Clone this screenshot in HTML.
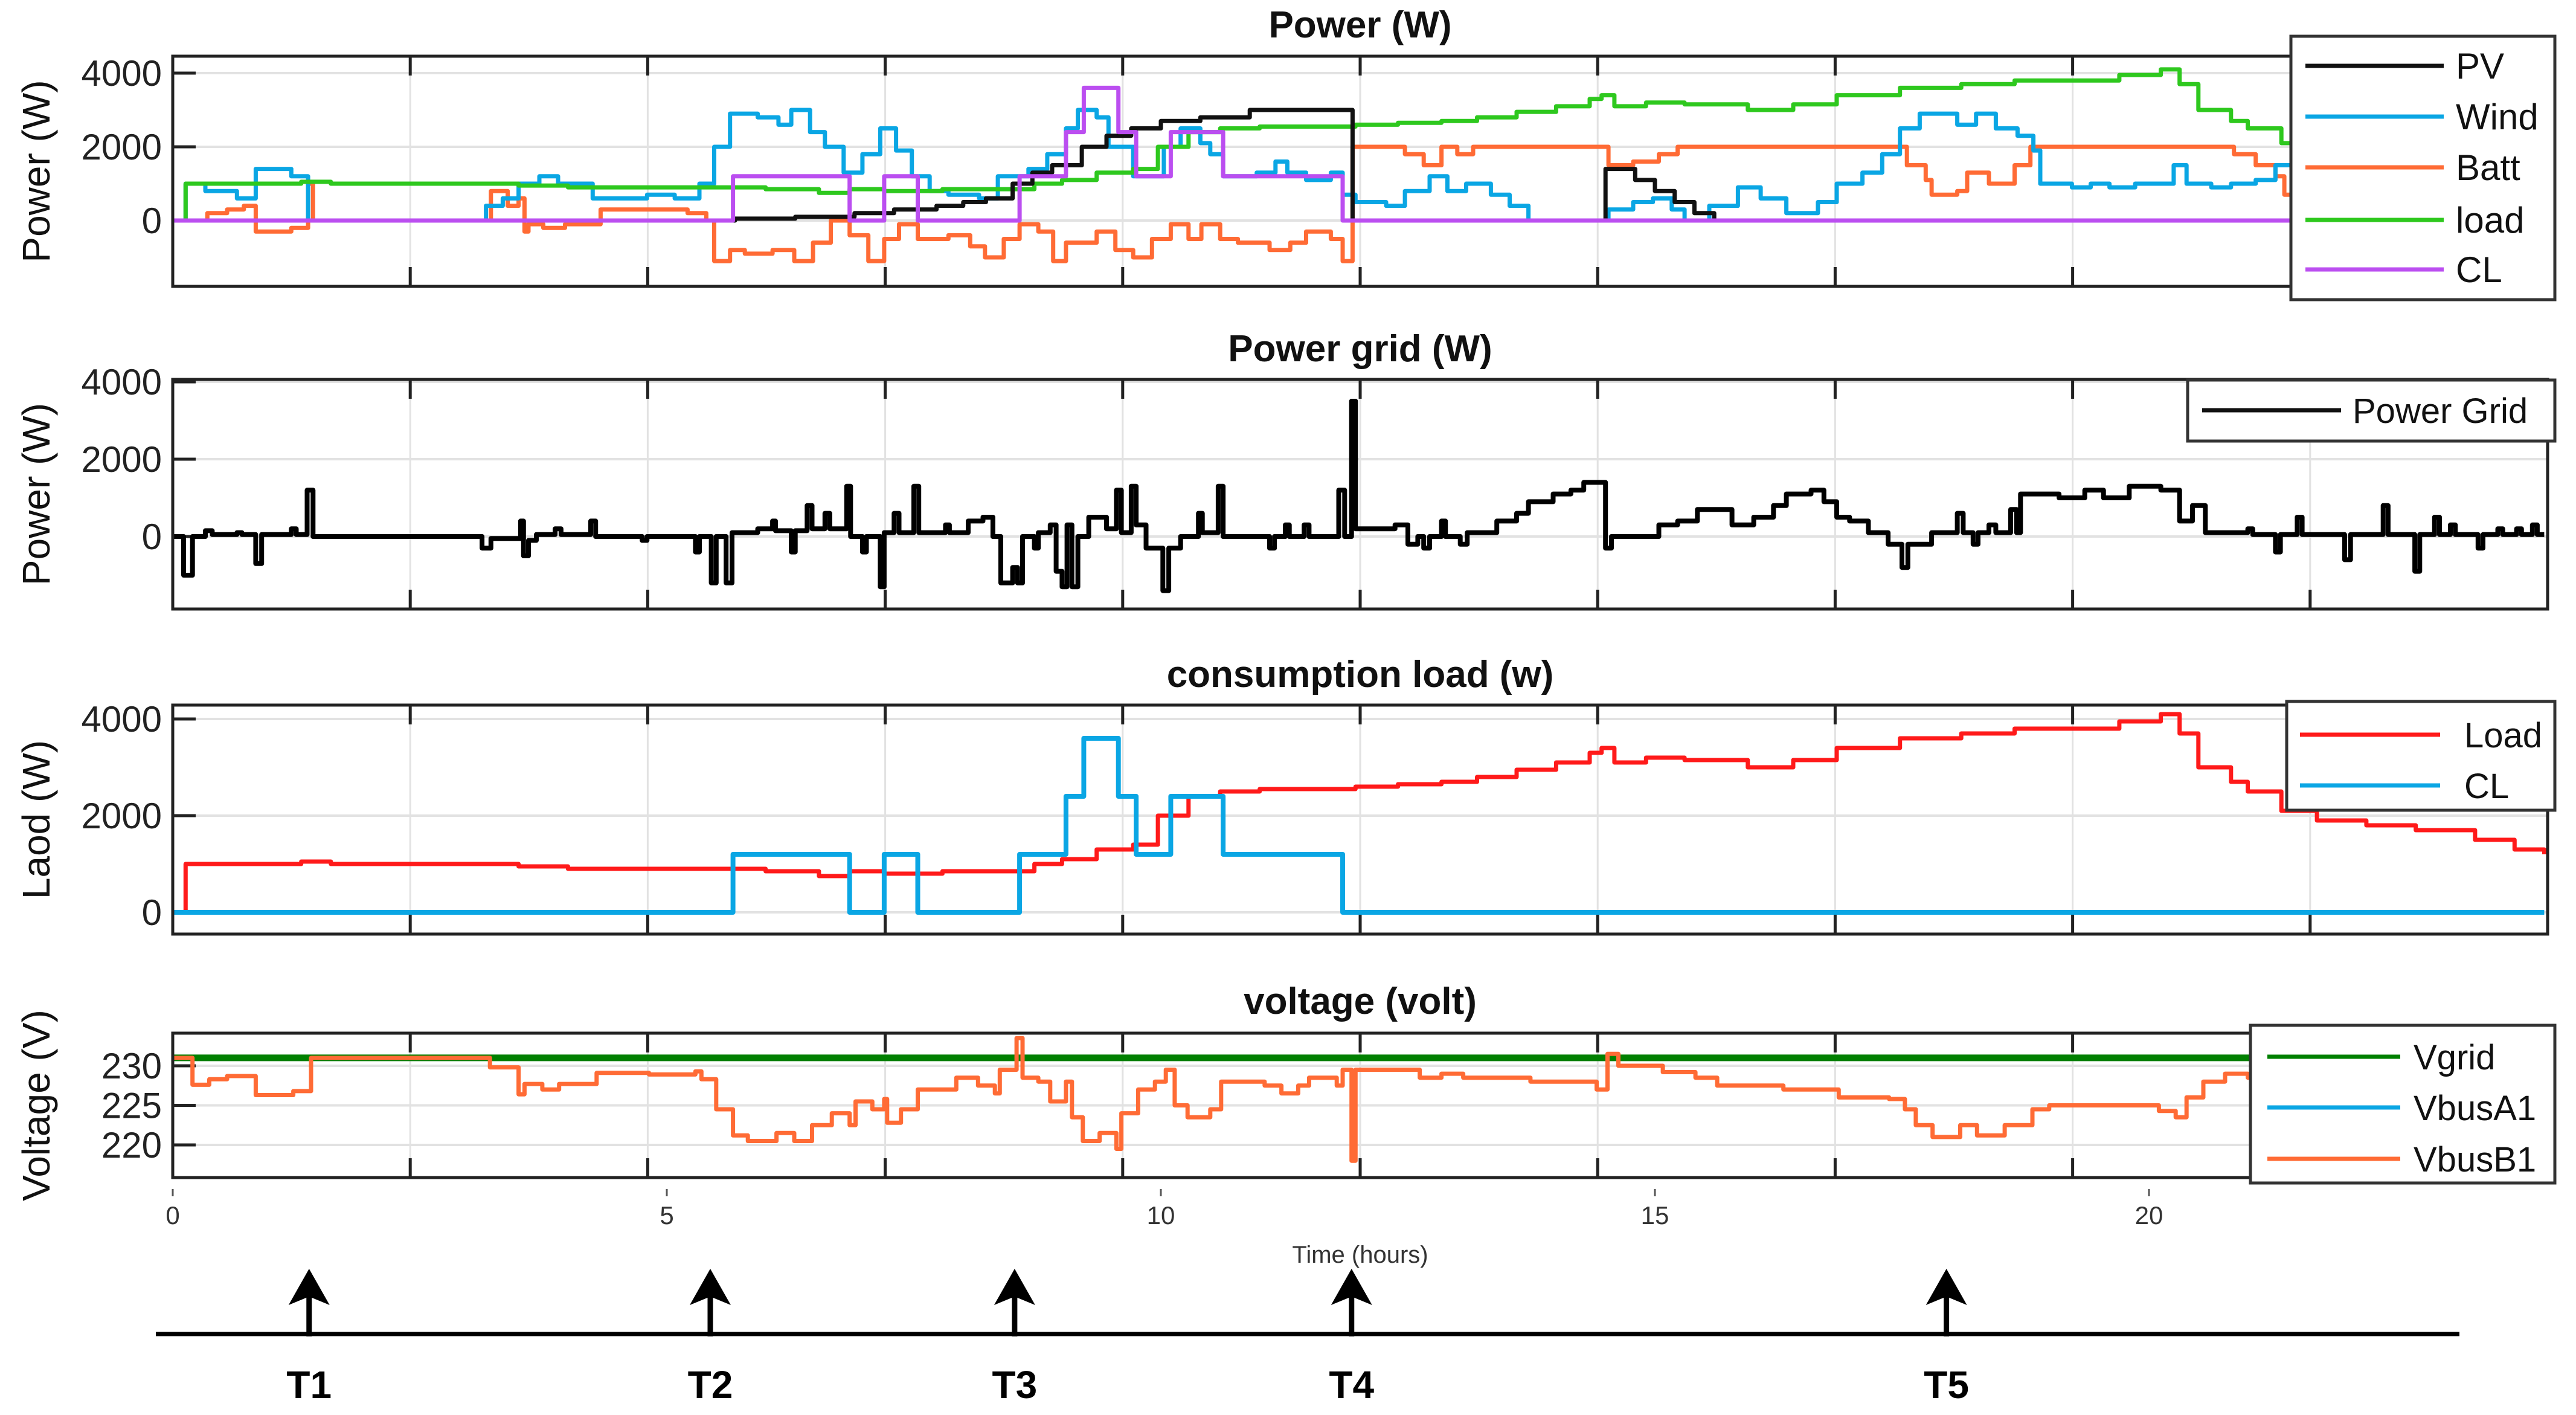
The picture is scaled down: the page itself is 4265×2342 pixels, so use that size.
<!DOCTYPE html>
<html><head><meta charset="utf-8"><style>
html,body{margin:0;padding:0;background:#fff;}
svg{display:block;}
text{font-family:"Liberation Sans",Arial,sans-serif;}
</style></head>
<body>
<svg id="fig" width="4265" height="2342" viewBox="0 0 4265 2342" xmlns="http://www.w3.org/2000/svg">
<rect x="0" y="0" width="4265" height="2342" fill="#fff"/>
</svg>
<script>
// ---------- data (time in hours, values in W / V) ----------
const pvT=[0,5.69,6.3,6.9,7.3,7.73,8.0,8.23,8.5,8.7,8.9,9.2,9.45,9.7,10.0,10.4,10.9,11.94,14.5,14.8,15.0,15.2,15.4,15.6,24];
const pvV=[0,50,100,200,300,400,500,600,1000,1300,1500,2000,2300,2500,2700,2800,3000,0,1400,1100,800,500,200,0,0];
const windT=[0,0.13,0.33,0.65,0.84,1.2,1.37,3.17,3.34,3.5,3.71,3.9,4.25,4.8,5.08,5.33,5.48,5.64,5.92,6.13,6.26,6.45,6.6,6.79,6.98,7.16,7.32,7.48,7.66,7.85,8.16,8.35,8.66,8.85,9.04,9.16,9.35,9.47,9.72,10.03,10.2,10.4,10.5,10.63,10.97,11.16,11.28,11.47,11.72,11.84,11.97,12.28,12.47,12.72,12.9,13.09,13.34,13.53,13.72,14.53,14.78,14.98,15.17,15.3,15.55,15.84,16.07,16.33,16.65,16.84,17.1,17.3,17.48,17.68,18.06,18.25,18.45,18.67,18.83,18.9,19.22,19.41,19.6,19.86,20.25,20.38,20.63,20.83,21.08,21.28,21.5,24];
const windV=[0,1000,800,600,1400,1200,0,400,600,1000,1200,1000,600,700,600,1000,2000,2900,2800,2600,3000,2400,2000,1300,1800,2500,1900,1200,800,700,600,1200,1400,1800,2500,3000,2800,2000,1200,2000,2500,2100,1800,1200,1300,1600,1300,1100,1300,700,500,400,800,1200,800,1000,700,400,0,300,500,600,300,0,400,900,600,200,500,1000,1300,1800,2500,2900,2600,2900,2500,2300,1900,1000,900,1000,900,1000,1500,1000,900,1000,1100,1500,1300,1300];
const battT=[0,0.35,0.55,0.72,0.84,1.2,1.37,1.42,3.22,3.39,3.5,3.56,3.6,3.75,3.97,4.33,4.88,5.21,5.4,5.48,5.64,5.79,6.07,6.29,6.48,6.66,6.85,7.04,7.2,7.35,7.54,7.85,8.07,8.22,8.41,8.57,8.76,8.91,9.04,9.35,9.54,9.72,9.91,10.1,10.28,10.41,10.6,10.78,11.1,11.31,11.47,11.72,11.84,11.94,12.47,12.66,12.84,13.0,13.16,14.53,14.78,15.04,15.23,17.42,17.55,17.74,17.8,18.06,18.16,18.38,18.64,18.8,20.76,20.86,21.08,21.28,21.37,24];
const battV=[0,200,300,400,-300,-200,1000,0,800,400,600,-300,-100,-200,-100,300,300,200,0,-1100,-800,-900,-800,-1100,-600,0,-400,-1100,-500,-100,-500,-400,-700,-1000,-500,-100,-300,-1100,-600,-300,-800,-1000,-500,-100,-500,-100,-500,-600,-800,-600,-300,-500,-1100,2000,1800,1500,2000,1800,2000,1500,1600,1800,2000,2000,1500,1100,700,800,1300,1000,1500,2000,2000,1800,1500,1200,700,700];
const loadT=[0,0.13,1.0,1.3,1.6,3.5,4.0,5.5,6.0,6.3,6.54,6.85,7.2,7.79,8.72,9.0,9.35,9.72,9.97,10.28,10.6,11.0,11.97,12.4,12.84,13.2,13.6,14.0,14.34,14.46,14.59,14.91,15.3,15.94,16.4,16.84,17.48,18.1,18.64,19.22,19.7,20.12,20.31,20.5,20.83,21.0,21.34,21.7,22.2,22.7,23.3,23.7,24];
const loadV=[0,1000,1000,1050,1000,950,900,900,850,850,750,850,800,850,1000,1100,1300,1400,2000,2400,2500,2550,2600,2650,2700,2800,2950,3100,3300,3400,3100,3200,3150,3000,3150,3400,3600,3700,3800,3800,3950,4100,3700,3000,2700,2500,2100,1900,1800,1700,1500,1300,1200];
const clT=[0,5.67,6.85,7.2,7.54,8.57,9.04,9.22,9.57,9.75,10.1,10.63,11.84,24];
const clV=[0,1200,0,1200,0,1200,2400,3600,2400,1200,2400,1200,0,0];
const gridT=[0,0.11,0.2,0.33,0.4,0.65,0.7,0.84,0.9,1.2,1.25,1.36,1.42,3.13,3.22,3.52,3.55,3.6,3.68,3.87,3.93,4.23,4.28,4.75,4.8,5.29,5.33,5.45,5.5,5.6,5.66,5.92,6.07,6.1,6.26,6.3,6.42,6.47,6.6,6.65,6.82,6.86,6.98,7.02,7.16,7.2,7.3,7.35,7.5,7.55,7.82,7.86,8.05,8.2,8.3,8.38,8.5,8.55,8.6,8.72,8.76,8.88,8.94,9.0,9.05,9.1,9.16,9.27,9.45,9.55,9.6,9.7,9.75,9.85,10.02,10.08,10.2,10.38,10.42,10.58,10.63,11.1,11.15,11.26,11.3,11.45,11.5,11.8,11.86,11.93,11.97,12.37,12.5,12.6,12.66,12.72,12.84,12.88,13.03,13.1,13.4,13.6,13.72,13.97,14.15,14.28,14.5,14.56,15.04,15.23,15.43,15.65,15.78,16.0,16.2,16.33,16.58,16.71,16.84,16.97,17.16,17.36,17.5,17.56,17.8,18.06,18.12,18.22,18.27,18.38,18.45,18.6,18.66,18.7,19.09,19.35,19.54,19.8,20.12,20.31,20.44,20.57,21.0,21.05,21.28,21.33,21.5,21.55,21.98,22.04,22.37,22.42,22.69,22.74,22.89,22.94,23.05,23.1,23.33,23.38,23.53,23.58,23.72,23.77,23.88,23.93,24];
const gridV=[0,-1000,0,150,50,100,50,-700,50,200,50,1200,0,-300,-50,400,-500,-100,50,200,50,400,0,-100,0,-400,0,-1200,0,-1200,100,200,400,150,-400,150,800,200,600,200,1300,0,-400,0,-1300,100,600,100,1300,100,300,100,400,500,0,-1200,-800,-1200,0,-300,100,300,-900,-1300,300,-1300,0,500,200,1200,100,1300,300,-300,-1400,-300,0,600,100,1300,0,-300,0,300,0,300,0,1200,0,3500,200,300,-200,0,-300,0,400,0,-200,100,400,600,900,1100,1200,1400,-300,0,300,400,700,700,300,500,800,1100,1200,900,500,400,100,-200,-800,-200,100,600,100,-200,100,300,100,700,100,1100,1000,1200,1000,1300,1200,400,800,100,200,50,-400,50,500,50,-600,50,800,50,-900,50,500,50,300,50,-300,50,200,50,200,50,300,50,50];
const vgridT=[0,24];
const vgridV=[231,231];
const vbT=[0,0.2,0.37,0.55,0.84,1.22,1.4,3.21,3.5,3.56,3.74,3.91,4.29,4.82,5.29,5.35,5.5,5.67,5.82,6.11,6.29,6.47,6.67,6.85,6.91,7.08,7.2,7.23,7.37,7.54,7.93,8.15,8.32,8.37,8.54,8.6,8.76,8.88,9.04,9.1,9.21,9.38,9.55,9.6,9.77,9.94,10.05,10.14,10.27,10.5,10.61,11.05,11.22,11.39,11.5,11.78,11.84,11.93,11.97,12.4,12.62,12.84,13.06,13.74,14.41,14.52,14.63,15.08,15.41,15.63,16.3,16.86,17.37,17.53,17.64,17.81,18.09,18.26,18.54,18.82,18.99,20.1,20.27,20.38,20.55,20.77,21.0,24];
const vbV=[231,227.6,228.3,228.7,226.3,226.8,231,229.8,226.4,227.7,227,227.7,229.1,228.9,229.3,228.3,224.5,221.2,220.5,221.5,220.5,222.5,224,222.5,225.5,224.5,225.8,222.8,224.5,227,228.5,227.5,226.5,229.5,233.5,228.5,228,225.5,228,223.5,220.5,221.5,219.5,224,227,228,229.5,225,223.5,224.5,228,227.5,226.5,227.5,228.5,227.5,229.5,218,229.5,229.5,228.5,229,228.5,228,227,231.5,230,229.2,228.5,227.5,227,226,225.8,224.5,222.5,221,222.5,221.2,222.5,224.5,225,224.3,223.5,226,228,229,228.5,228.5];
const xTickLabels=["0","5","10","15","20"];
const xTickValues=[0,5,10,15,20];
const p1Ticks=[0,2000,4000];
const p4Ticks=[220,225,230];
const eventLabels=["T1","T2","T3","T4","T5"];
const eventTimes=[1.38,5.44,8.52,11.93,17.95];

// ---------- helpers ----------
const NS="http://www.w3.org/2000/svg";
const svg=document.getElementById('fig');
const X0=286, PXH=163.6, XR=4218;
function xs(h){return X0+h*PXH;}
function mk(tag,attrs,parent){const e=document.createElementNS(NS,tag);for(const k in attrs)e.setAttribute(k,attrs[k]);(parent||svg).appendChild(e);return e;}

const panels=[
 {name:'power',top:93,bot:474,y0:365,k:0.061,base:0,ticks:p1Ticks,ylab:'Power (W)',title:'Power (W)',ty:62},
 {name:'power-grid',top:628,bot:1008,y0:888,k:0.064,base:0,ticks:p1Ticks,ylab:'Power (W)',title:'Power grid (W)',ty:598},
 {name:'consumption-load',top:1167,bot:1546,y0:1510,k:0.08,base:0,ticks:p1Ticks,ylab:'Laod (W)',title:'consumption load (w)',ty:1137},
 {name:'voltage',top:1710,bot:1949,y0:1764,k:13.1,base:230,ticks:p4Ticks,ylab:'Voltage (V)',title:'voltage (volt)',ty:1678}
];
function ys(p,v){return p.y0-(v-p.base)*p.k;}

function stepPath(p,T,V){
  let d='M'+xs(T[0]).toFixed(1)+','+ys(p,V[0]).toFixed(1);
  for(let i=1;i<T.length;i++){
    d+=' H'+xs(T[i]).toFixed(1)+' V'+ys(p,V[i]).toFixed(1);
  }
  return d;
}

panels.forEach((p,pi)=>{
  const g=mk('g',{});
  
  
  const cid='clip'+pi;
  const cp=mk('clipPath',{id:cid},g);
  mk('rect',{x:X0,y:p.top,width:XR-X0,height:p.bot-p.top},cp);
  for(let k=1;k<10;k++){
    const gx=X0+(XR-X0)*k/10;
    const gl=mk('line',{x1:gx,y1:p.top,x2:gx,y2:p.bot,stroke:'#e2e2e2','stroke-width':3},g);
    
    
  }
  p.ticks.forEach(v=>{
    const yy=ys(p,v);
    const hl=mk('line',{x1:X0,y1:yy,x2:XR,y2:yy,stroke:'#e2e2e2','stroke-width':4},g);
    
    
    mk('line',{x1:X0,y1:yy,x2:X0+38,y2:yy,stroke:'#222','stroke-width':5},g);
    const t=mk('text',{x:268,y:yy+21,'text-anchor':'end','font-size':60,fill:'#222'},g);
    t.textContent=String(v);
    
    
  });
  for(let k=1;k<10;k++){
    const gx=X0+(XR-X0)*k/10;
    mk('line',{x1:gx,y1:p.top,x2:gx,y2:p.top+32,stroke:'#222','stroke-width':5},g);
    mk('line',{x1:gx,y1:p.bot,x2:gx,y2:p.bot-32,stroke:'#222','stroke-width':5},g);
  }
  const yl=mk('text',{x:0,y:0,'text-anchor':'middle','font-size':64,fill:'#111',transform:`translate(82,${(p.top+p.bot)/2}) rotate(-90)`},g);
  yl.textContent=p.ylab;
  
  
  const tt=mk('text',{x:2252,y:p.ty,'text-anchor':'middle','font-size':62,'font-weight':'bold',fill:'#111'},g);
  tt.textContent=p.title;
  
  
  p.g=g;p.cid=cid;
});

function series(pi,T,V,color,w,name){
  const p=panels[pi];
  const e=mk('path',{d:stepPath(p,T,V),fill:'none',stroke:color,'stroke-width':w,'stroke-linejoin':'round','clip-path':`url(#${p.cid})`},p.g);
  
  
}
series(0,battT,battV,'#ff6b35',7,'batt-line');
series(0,windT,windV,'#0aa6e4',7,'wind-line');
series(0,loadT,loadV,'#2ec81e',7,'load-line');
series(0,pvT,pvV,'#111',7,'pv-line');
series(0,clT,clV,'#bb4ef0',7,'cl-line');
series(1,gridT,gridV,'#000',8,'power-grid-line');
series(2,loadT,loadV,'#ff1a1a',7,'load-line');
series(2,clT,clV,'#0aa6e4',8,'cl-line');
series(3,vgridT,vgridV,'#008000',11,'vgrid-line');
series(3,vbT,vbV,'#0aa6e4',6,'vbusa1-line');
series(3,vbT,vbV,'#ff6b35',7,'vbusb1-line');

panels.forEach(p=>{
  const f=mk('rect',{x:X0,y:p.top,width:XR-X0,height:p.bot-p.top,fill:'none',stroke:'#222','stroke-width':5},p.g);
  
  
});

function legend(x1,y1,x2,y2,items,lx1,lx2,tx,fs){
  const g=mk('g',{});
  
  
  mk('rect',{x:x1,y:y1,width:x2-x1,height:y2-y1,fill:'#fff',stroke:'#333','stroke-width':5},g);
  items.forEach(it=>{
    const e=mk('g',{},g);
    
    
    mk('line',{x1:lx1,y1:it[2],x2:lx2,y2:it[2],stroke:it[1],'stroke-width':7},e);
    const t=mk('text',{x:tx,y:it[2]+21,'font-size':fs,fill:'#111'},e);
    t.textContent=it[0];
  });
}
legend(3793,60,4230,496,[['PV','#111',109],['Wind','#0aa6e4',193],['Batt','#ff6b35',277],['load','#2ec81e',364],['CL','#bb4ef0',446]],3817,4046,4066,60);
legend(3622,629,4230,730,[['Power Grid','#111',679]],3646,3876,3895,58);
legend(3786,1161,4230,1341,[['Load','#ff1a1a',1216],['CL','#0aa6e4',1300]],3808,4040,4080,58);
legend(3726,1697,4230,1958,[['Vgrid','#008000',1749],['VbusA1','#0aa6e4',1833],['VbusB1','#ff6b35',1918]],3754,3974,3996,58);

xTickValues.forEach((v,i)=>{
  const xx=xs(v);
  mk('line',{x1:xx,y1:1968,x2:xx,y2:1980,stroke:'#555','stroke-width':3});
  const t=mk('text',{x:xx,y:2026,'text-anchor':'middle','font-size':42,fill:'#333','font-family':'Liberation Serif, serif'});
  t.textContent=xTickLabels[i];
  
  
});
const xt=mk('text',{x:2252,y:2090,'text-anchor':'middle','font-size':40,fill:'#333'});
xt.textContent='Time (hours)';



const tl=mk('line',{x1:258,y1:2208,x2:4072,y2:2208,stroke:'#000','stroke-width':7});


eventTimes.forEach((h,i)=>{
  const xx=xs(h);
  const g=mk('g',{});
  
  
  mk('line',{x1:xx,y1:2212,x2:xx,y2:2140,stroke:'#000','stroke-width':9},g);
  mk('polygon',{points:`${xx},2100 ${xx-34},2160 ${xx},2146 ${xx+34},2160`,fill:'#000'},g);
  const t=mk('text',{x:xx,y:2314,'text-anchor':'middle','font-size':64,'font-weight':'bold',fill:'#000'},g);
  t.textContent=eventLabels[i];
});
</script>
</body></html>
